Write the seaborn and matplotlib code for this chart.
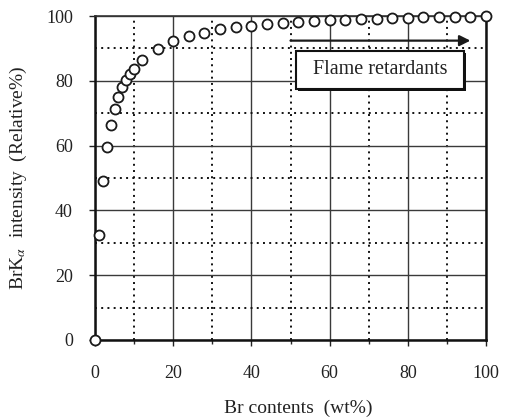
import matplotlib
matplotlib.use("Agg")
import matplotlib.pyplot as plt
import matplotlib.patheffects as pe
from matplotlib.patches import Rectangle
from matplotlib.ticker import MultipleLocator
import seaborn as sns
import pandas as pd

br_content = [0, 1, 2, 3, 4, 5, 6, 7, 8, 9, 10, 12, 16, 20, 24, 28, 32, 36, 40,
              44, 48, 52, 56, 60, 64, 68, 72, 76, 80, 84, 88, 92, 96, 100]
intensity = [0, 32.4, 49.1, 59.5, 66.5, 71.3, 75.1, 78.0, 80.1, 82.1, 83.7, 86.4,
             89.9, 92.4, 93.9, 94.9, 96.0, 96.5, 96.9, 97.4, 97.7, 98.2, 98.5,
             98.7, 98.8, 99.0, 99.1, 99.3, 99.5, 99.6, 99.6, 99.7, 99.8, 100.0]
x_ticks = [0, 20, 40, 60, 80, 100]
y_ticks = [0, 20, 40, 60, 80, 100]
x_label = "Br contents  (wt%)"
y_label = r"BrK$_{\alpha}$  intensity  (Relative%)"
annot_text = "Flame retardants"
arrow_start, arrow_end, arrow_y = 50, 96, 92.4
box_x0, box_y0, box_w, box_h = 51.4, 77.6, 43.0, 11.7

sns.set_style("white")
plt.rcParams["font.family"] = ["Liberation Serif", "DejaVu Serif"]
plt.rcParams["mathtext.fontset"] = "stix"

df = pd.DataFrame({"x": br_content, "y": intensity})

fig = plt.figure(figsize=(5.07, 4.17), dpi=100)
ax = fig.add_axes([0.1874, 0.1847, 0.7712, 0.7769])

ax.set_xlim(0, 100)
ax.set_ylim(0, 100)
ax.set_xticks(x_ticks)
ax.set_yticks(y_ticks)
ax.xaxis.set_minor_locator(MultipleLocator(10))
ax.yaxis.set_minor_locator(MultipleLocator(10))
ax.set_axisbelow(True)
ax.grid(which="major", color="#3a3a3a", lw=1.0, ls="-")
ax.grid(which="minor", color="#111111", lw=1.4, ls=(0, (1, 2.2)))

sns.scatterplot(data=df, x="x", y="y", ax=ax, s=52, marker="o",
                facecolor="white", edgecolor="#1a1a1a", linewidth=1.3,
                clip_on=False, zorder=5, legend=False)

for side in ["left", "bottom", "right"]:
    ax.spines[side].set_linewidth(1.8)
    ax.spines[side].set_color("#111111")
ax.spines["top"].set_linewidth(1.2)
ax.spines["top"].set_color("#333333")

ax.tick_params(axis="x", which="major", direction="out", length=4, width=1,
               pad=14, labelsize=13, colors="#222222", bottom=True)
ax.tick_params(axis="x", which="minor", direction="out", length=3, width=1,
               bottom=True)
ax.tick_params(axis="y", which="major", direction="out", length=4, width=1,
               pad=12, labelsize=13, colors="#222222", left=True)
ax.tick_params(axis="y", which="minor", left=False)

ax.set_xlabel(x_label, fontsize=14, color="#222222")
ax.set_ylabel(y_label, fontsize=14, color="#222222")
ax.xaxis.set_label_coords(0.52, -0.185)
ax.yaxis.set_label_coords(-0.168, 0.5)

ax.annotate("", xy=(arrow_end, arrow_y), xytext=(arrow_start, arrow_y),
            arrowprops=dict(arrowstyle="-|>", color="#1a1a1a", lw=1.6,
                            mutation_scale=16, shrinkA=0, shrinkB=0),
            zorder=6)

rect = Rectangle((box_x0, box_y0), box_w, box_h, facecolor="white",
                 edgecolor="#111111", lw=1.5, zorder=6,
                 path_effects=[pe.SimplePatchShadow(offset=(1.5, -1.5),
                                                    shadow_rgbFace="#111111",
                                                    alpha=1.0),
                               pe.Normal()])
ax.add_patch(rect)
ax.text(box_x0 + box_w / 2, box_y0 + box_h / 2, annot_text, ha="center",
        va="center", fontsize=14.5, color="#222222", zorder=7)

fig.savefig("out.png", dpi=100)
